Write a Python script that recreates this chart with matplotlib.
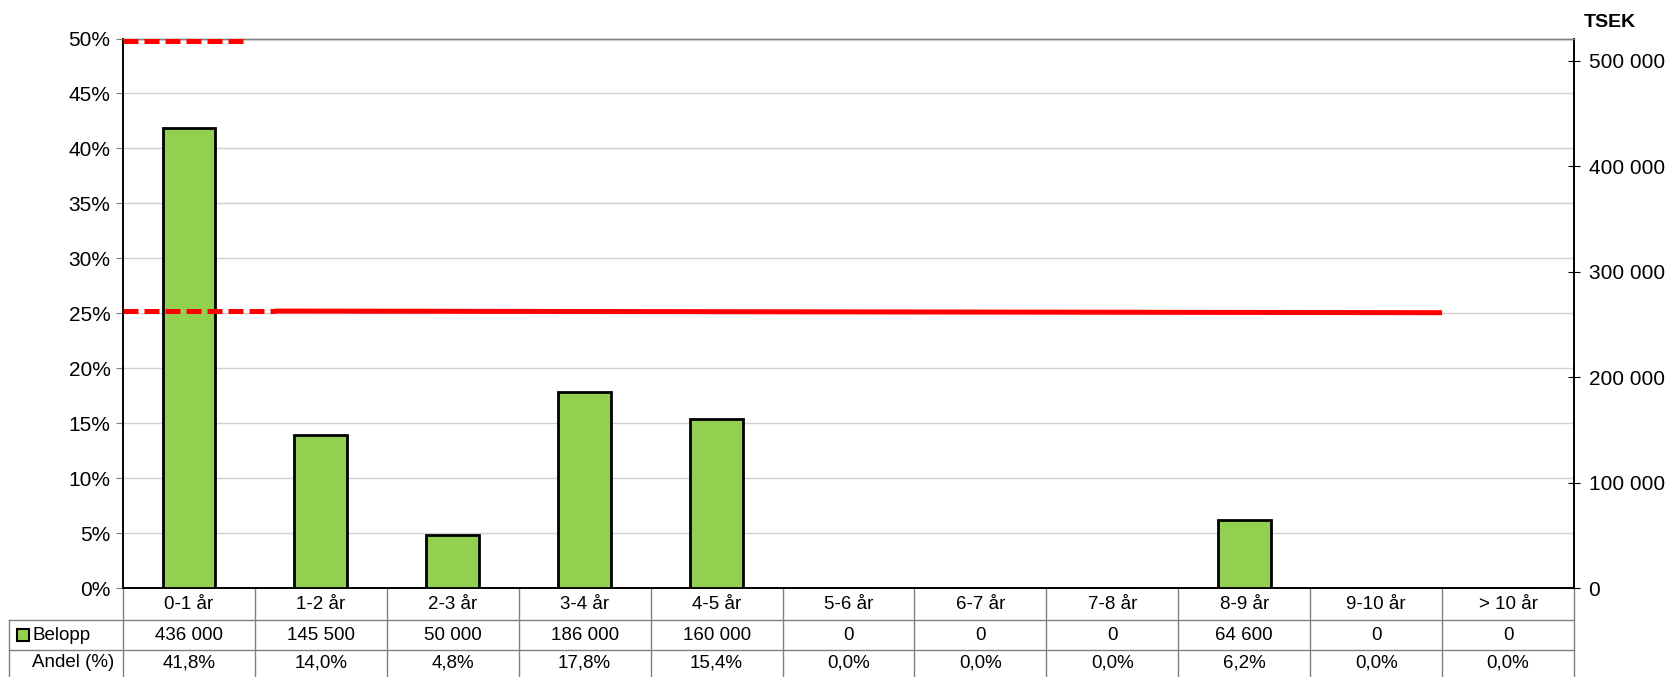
import numpy as np
import matplotlib
matplotlib.use("Agg")
import matplotlib.pyplot as plt
from matplotlib.lines import Line2D
from matplotlib.patches import Rectangle

plt.rcParams['font.family'] = ['Liberation Sans', 'DejaVu Sans']

# data
categories = ['0-1 år', '1-2 år', '2-3 år', '3-4 år', '4-5 år', '5-6 år',
              '6-7 år', '7-8 år', '8-9 år', '9-10 år', '> 10 år']
belopp = [436000, 145500, 50000, 186000, 160000, 0, 0, 0, 64600, 0, 0]
andel = [41.8, 14.0, 4.8, 17.8, 15.4, 0.0, 0.0, 0.0, 6.2, 0.0, 0.0]
belopp_labels = ['436 000', '145 500', '50 000', '186 000', '160 000', '0',
                 '0', '0', '64 600', '0', '0']
andel_labels = ['41,8%', '14,0%', '4,8%', '17,8%', '15,4%', '0,0%',
                '0,0%', '0,0%', '6,2%', '0,0%', '0,0%']

# limit lines (percent)
max_limit_x = [-0.5, 0.41]
max_limit_y = [49.8, 49.8]
target_dash_x = [-0.5, 0.65]
target_dash_y = [25.2, 25.2]
target_x = [0.65, 9.5]
target_y = [25.2, 25.05]

green = '#92D050'
total = sum(belopp)

fig = plt.figure(figsize=(16.77, 6.77), dpi=100)
ax = fig.add_axes([0.07335, 0.13146, 0.86523, 0.81167])
ax2 = ax.twinx()

x = np.arange(len(categories))
ax2.bar(x, belopp, width=0.4, color=green, edgecolor='black', linewidth=2, zorder=3)

ax.set_xlim(-0.5, len(categories) - 0.5)
ax.set_ylim(0, 50)
ax2.set_ylim(0, total / 2)

ax.set_yticks(np.arange(0, 51, 5))
ax.set_yticklabels([f'{v}%' for v in range(0, 51, 5)], fontsize=15)
ax.tick_params(axis='y', length=5, width=0.8, color='#808080', pad=4)
ax.set_xticks([])
ax.grid(axis='y', color='#d0d0d0', linewidth=1)
ax.set_axisbelow(True)

ax2.set_yticks(np.arange(0, 500001, 100000))
ax2.set_yticklabels(['0' if v == 0 else f'{v // 1000} 000' for v in range(0, 500001, 100000)], fontsize=15)
ax2.tick_params(axis='y', direction='inout', length=9, width=0.8, pad=6)

for a in (ax, ax2):
    a.spines['top'].set_color('#808080')
    a.spines['top'].set_linewidth(1)
    a.spines['left'].set_linewidth(1.2)
    a.spines['right'].set_linewidth(1.2)
    a.spines['bottom'].set_linewidth(1.2)

# red limit lines on percent axis, drawn over bars
ax3 = ax.twinx()
ax3.set_ylim(0, 50)
ax3.axis('off')
ax3.plot(max_limit_x, max_limit_y, color='red', linewidth=3.6, dashes=(3, 1.2), solid_capstyle='butt', clip_on=False)
ax3.plot(target_dash_x, target_dash_y, color='red', linewidth=3.6, dashes=(3, 1.2))
ax3.plot(target_x, target_y, color='red', linewidth=3.6, solid_capstyle='butt')

fig.text(0.9445, 0.9675, 'TSEK', fontsize=14, fontweight='bold', ha='left', va='center')

# data table under the chart
trans = ax.get_xaxis_transform()
ax_h = 549.5
r1 = -32 / ax_h
r2 = -62 / ax_h
r3 = -90 / ax_h
left = -0.5 - 114 / 131.9
grid_c = '#808080'
for b in np.arange(-0.5, len(categories), 1.0):
    ax.add_line(Line2D([b, b], [0, r3], transform=trans, color=grid_c, lw=1, clip_on=False))
for yy in (r1, r2):
    ax.add_line(Line2D([left, len(categories) - 0.5], [yy, yy], transform=trans, color=grid_c, lw=1, clip_on=False))
ax.add_line(Line2D([left, left], [r1, r3], transform=trans, color=grid_c, lw=1, clip_on=False))

for i, cat in enumerate(categories):
    ax.text(i, r1 / 2, cat, transform=trans, ha='center', va='center', fontsize=13.5)
    ax.text(i, (r1 + r2) / 2, belopp_labels[i], transform=trans, ha='center', va='center', fontsize=13.5)
    ax.text(i, (r2 + r3 + 0.005) / 2, andel_labels[i], transform=trans, ha='center', va='center', fontsize=13.5)

lab_x = left + 23 / 131.9
ax.text(lab_x, (r1 + r2) / 2, 'Belopp', transform=trans, ha='left', va='center', fontsize=13.5)
ax.text(lab_x, (r2 + r3 + 0.005) / 2, 'Andel (%)', transform=trans, ha='left', va='center', fontsize=13.5)
ax.add_patch(Rectangle((left + 8 / 131.9, (r1 + r2) / 2 - 6 / ax_h), 12 / 131.9, 12 / ax_h,
                       transform=trans, facecolor=green, edgecolor='black', lw=1.5, clip_on=False))

fig.savefig('out.png', dpi=100)
